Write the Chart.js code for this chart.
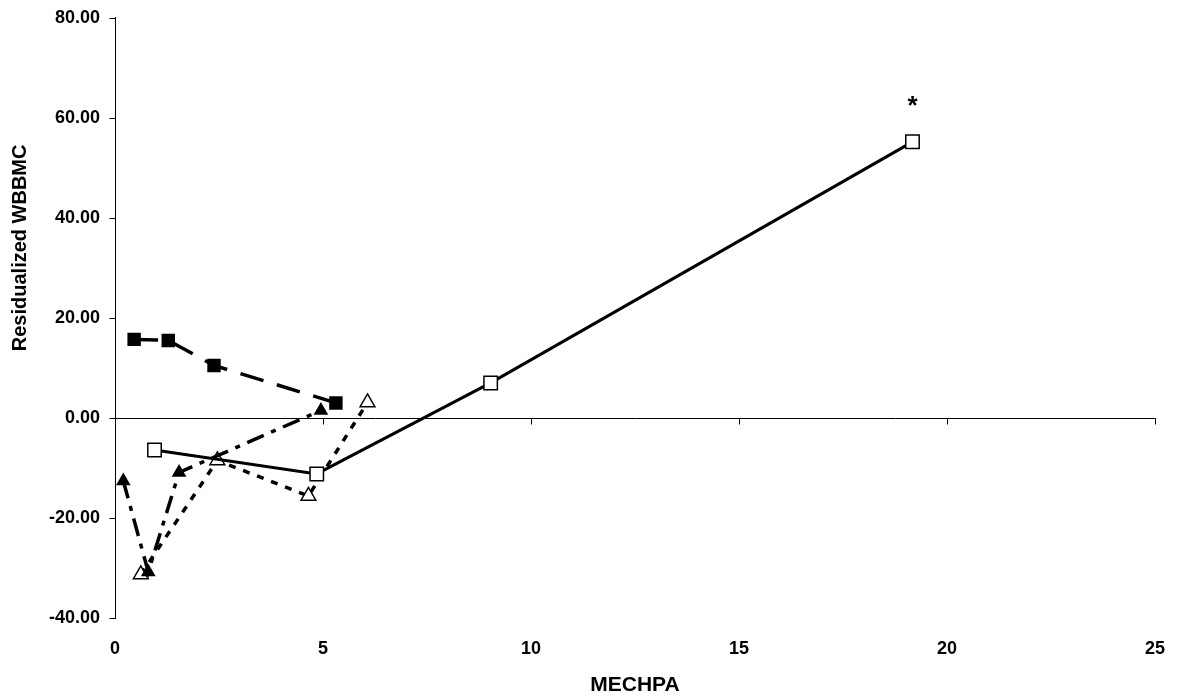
<!DOCTYPE html>
<html>
<head>
<meta charset="utf-8">
<script src="https://cdn.jsdelivr.net/npm/chart.js@4"></script>
<style>
  html, body { margin: 0; background: #fff; }
  #wrap { width: 1178px; height: 700px; }
</style>
</head>
<body>
<div id="wrap"><canvas id="chart"></canvas></div>
<script>
// series read as (MECHPA, residualized WBBMC) pairs
const filledSquareX = [0.46, 1.28, 2.38, 5.31];
const filledSquareY = [15.7, 15.5, 10.5, 3.0];
const openSquareX = [0.95, 4.85, 9.03, 19.17];
const openSquareY = [-6.4, -11.2, 7.0, 55.2];
const filledTriX = [0.2, 0.8, 1.54, 4.95];
const filledTriY = [-12.6, -30.8, -10.9, 1.5];
const openTriX = [0.62, 2.46, 4.65, 6.07];
const openTriY = [-31.3, -8.5, -15.6, 3.1];

const xTicks = [0, 5, 10, 15, 20, 25];
const yTicks = [-40, -20, 0, 20, 40, 60, 80];
const starNote = { x: 19.17, y: 63.5, text: "*" };
const yTitle = "Residualized WBBMC";

const FONT = "'Liberation Sans', Arial, sans-serif";
const pairs = (xs, ys) => xs.map((v, i) => ({ x: v, y: ys[i] }));

// zero line with its tick marks, y-axis tick marks, y title and the asterisk
const axisMarks = {
  id: "axisMarks",
  beforeDatasetsDraw(chart) {
    const { ctx, scales: { x, y } } = chart;
    const y0 = Math.round(y.getPixelForValue(0)) + 0.5;
    const left = Math.round(x.getPixelForValue(0)) + 0.5;
    ctx.save();
    ctx.strokeStyle = "#000";
    ctx.lineWidth = 1;
    ctx.beginPath();
    ctx.moveTo(left, y0);
    ctx.lineTo(Math.round(x.getPixelForValue(25)) + 0.5, y0);
    xTicks.slice(1).forEach(v => {
      const px = Math.round(x.getPixelForValue(v)) + 0.5;
      ctx.moveTo(px, y0);
      ctx.lineTo(px, y0 + 6);
    });
    yTicks.forEach(v => {
      const py = Math.round(y.getPixelForValue(v)) + 0.5;
      ctx.moveTo(left - 6, py);
      ctx.lineTo(left, py);
    });
    ctx.stroke();

    // axis title sits a little above the middle of the plot
    ctx.fillStyle = "#000";
    ctx.font = "bold 20px " + FONT;
    ctx.textAlign = "center";
    ctx.textBaseline = "middle";
    ctx.translate(20, y.getPixelForValue(34));
    ctx.rotate(-Math.PI / 2);
    ctx.fillText(yTitle, 0, 0);
    ctx.restore();
  },
  afterDatasetsDraw(chart) {
    const { ctx, scales: { x, y } } = chart;
    ctx.save();
    ctx.fillStyle = "#000";
    ctx.font = "bold 26px " + FONT;
    ctx.textAlign = "center";
    ctx.textBaseline = "middle";
    ctx.fillText(starNote.text, x.getPixelForValue(starNote.x), y.getPixelForValue(starNote.y) + 7);
    ctx.restore();
  }
};

new Chart(document.getElementById("chart"), {
  type: "scatter",
  data: {
    datasets: [
      {
        data: pairs(filledSquareX, filledSquareY),
        showLine: true,
        borderColor: "#000",
        borderWidth: 3.5,
        borderDash: [24, 14],
        pointStyle: "rect",
        pointRadius: 9.5,
        pointBackgroundColor: "#000",
        pointBorderColor: "#000",
        pointBorderWidth: 0
      },
      {
        data: pairs(openSquareX, openSquareY),
        showLine: true,
        borderColor: "#000",
        borderWidth: 3,
        pointStyle: "rect",
        pointRadius: 9.5,
        pointBackgroundColor: "#fff",
        pointBorderColor: "#000",
        pointBorderWidth: 1.5
      },
      {
        data: pairs(filledTriX, filledTriY),
        showLine: true,
        borderColor: "#000",
        borderWidth: 3.5,
        borderDash: [18, 8, 5, 8],
        pointStyle: "triangle",
        pointRadius: 8.5,
        pointBackgroundColor: "#000",
        pointBorderColor: "#000",
        pointBorderWidth: 0
      },
      {
        data: pairs(openTriX, openTriY),
        showLine: true,
        borderColor: "#000",
        borderWidth: 3.5,
        borderDash: [7, 8],
        pointStyle: "triangle",
        pointRadius: 8.5,
        pointBackgroundColor: "#fff",
        pointBorderColor: "#000",
        pointBorderWidth: 1.5
      }
    ]
  },
  options: {
    responsive: true,
    maintainAspectRatio: false,
    animation: false,
    layout: { padding: { top: 15, right: 23, left: 0, bottom: 0 } },
    plugins: { legend: { display: false }, tooltip: { enabled: false } },
    scales: {
      x: {
        type: "linear",
        min: 0,
        max: 25,
        afterBuildTicks: s => { s.ticks = xTicks.map(v => ({ value: v })); },
        afterFit: s => { s.height = 82; },
        grid: { display: false },
        border: { display: false },
        ticks: { color: "#000", padding: 12, font: { family: FONT, size: 18, weight: "bold" } },
        title: {
          display: true,
          text: "MECHPA",
          color: "#000",
          padding: { top: 0, bottom: 2 },
          font: { family: FONT, size: 21, weight: "bold" }
        }
      },
      y: {
        min: -40,
        max: 80,
        afterBuildTicks: s => { s.ticks = yTicks.map(v => ({ value: v })); },
        afterFit: s => { s.width = 115; },
        grid: { display: false },
        border: { display: true, color: "#000", width: 1 },
        ticks: {
          color: "#000",
          padding: 7,
          callback: v => v.toFixed(2),
          font: { family: FONT, size: 18, weight: "bold" }
        }
      }
    }
  },
  plugins: [axisMarks]
});
</script>
</body>
</html>
